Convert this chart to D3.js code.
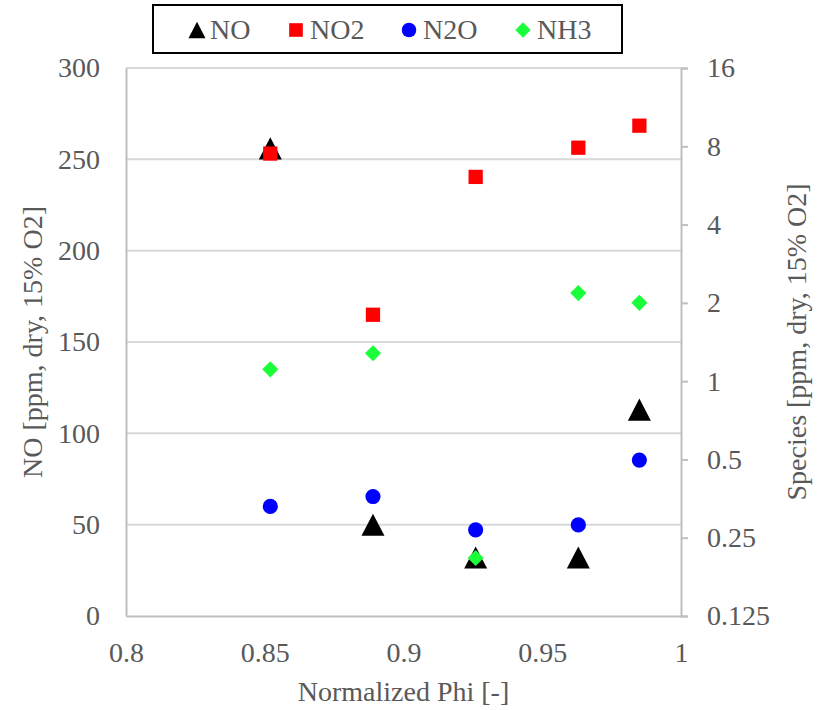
<!DOCTYPE html>
<html>
<head>
<meta charset="utf-8">
<script src="https://cdn.jsdelivr.net/npm/d3@7"></script>
<style>
	body { margin: 0; background: #fff; }
	svg, svg text { font-family: 'Liberation Serif'; }
</style>
</head>
<body>
<svg id="chart" width="827" height="710" font-family="Liberation Serif"></svg>
<script>
// values
var phi = [0.852, 0.889, 0.926, 0.963, 0.985];
var no_vals = [256, 50, 32, 32, 113];
var no2_vals = [7.5, 1.8, 6.1, 7.9, 9.6];
var n2o_vals = [0.33, 0.36, 0.268, 0.28, 0.497];
var nh3_vals = [1.11, 1.28, 0.209, 2.18, 2.0];

var x_ticks = [0.8, 0.85, 0.9, 0.95, 1];
var left_ticks = [0, 50, 100, 150, 200, 250, 300];
var right_ticks = [0.125, 0.25, 0.5, 1, 2, 4, 8, 16];

var series_names = ["NO", "NO2", "N2O", "NH3"];
var series_colors = ["#000000", "#ff0000", "#0000ff", "#1aff3a"];
var series_shapes = ["triangle", "square", "circle", "diamond"];

var m = {left: 126, right: 681, top: 68, bottom: 616};
var FS = 28;

function styleText(sel, size) {
	return sel.attr("font-size", size)
		.attr("fill", "#595959");
}

//returns a path string for a marker centred on 0,0
function markerPath(shape, s) {
	var p = d3.path();
	if (shape === "triangle") {
		p.moveTo(0, -s * 0.48);
		p.lineTo(s * 0.5, s * 0.48);
		p.lineTo(-s * 0.5, s * 0.48);
		p.closePath();
	} else if (shape === "square") {
		var h = s * 0.31;
		p.rect(-h, -h, 2 * h, 2 * h);
	} else if (shape === "circle") {
		p.arc(0, 0, s * 0.33, 0, 2 * Math.PI);
	} else {
		var d = s * 0.35;
		p.moveTo(0, -d);
		p.lineTo(d, 0);
		p.lineTo(0, d);
		p.lineTo(-d, 0);
		p.closePath();
	}
	return p.toString();
}

var svg = d3.select("#chart");

var xscale = d3.scaleLinear().domain([0.8, 1]).range([m.left, m.right]);
var yleft = d3.scaleLinear().domain([0, 300]).range([m.bottom, m.top]);
var yright = d3.scaleLog().base(2).domain([0.125, 16]).range([m.bottom, m.top]);

//gridlines
svg.append("g")
	.selectAll("line")
	.data(left_ticks.slice(1))
	.enter().append("line")
	.attr("x1", m.left).attr("x2", m.right)
	.attr("y1", function(d){ return yleft(d) })
	.attr("y2", function(d){ return yleft(d) })
	.attr("stroke", "#d9d9d9")
	.attr("stroke-width", 2);

//left axis
var left_axis = d3.axisLeft(yleft).tickValues(left_ticks).tickSize(0).tickPadding(26);
var gl = svg.append("g").attr("transform", "translate(" + m.left + ",0)").call(left_axis);

//bottom axis
var bottom_axis = d3.axisBottom(xscale).tickValues(x_ticks).tickSize(0).tickPadding(26)
	.tickFormat(function(d){ return String(d) });
var gb = svg.append("g").attr("transform", "translate(0," + m.bottom + ")").call(bottom_axis);

//right axis
var right_axis = d3.axisRight(yright).tickValues(right_ticks).tickSize(7).tickPadding(19)
	.tickFormat(function(d){ return String(d) });
var gr = svg.append("g").attr("transform", "translate(" + m.right + ",0)").call(right_axis);

[gl, gb, gr].map(function(g) {
	g.attr("font-family", null).attr("font-size", null);
	g.select(".domain").attr("stroke", "#bfbfbf").attr("stroke-width", 2);
	g.selectAll(".tick line").attr("stroke", "#bfbfbf").attr("stroke-width", 2);
	styleText(g.selectAll(".tick text"), FS);
});

//axis titles, centred on the plot area
var mid_y = (m.top + m.bottom) / 2;
styleText(svg.append("text"), FS)
	.attr("transform", "translate(42," + mid_y + ") rotate(-90)")
	.attr("text-anchor", "middle")
	.text("NO [ppm, dry, 15% O2]");

styleText(svg.append("text"), FS)
	.attr("transform", "translate(806," + mid_y + ") rotate(-90)")
	.attr("text-anchor", "middle")
	.text("Species [ppm, dry, 15% O2]");

styleText(svg.append("text"), FS)
	.attr("x", (m.left + m.right) / 2)
	.attr("y", 701)
	.attr("text-anchor", "middle")
	.text("Normalized Phi [-]");

//markers, drawn in series order
var series = [
	{vals: no_vals, scale: yleft},
	{vals: no2_vals, scale: yright},
	{vals: n2o_vals, scale: yright},
	{vals: nh3_vals, scale: yright}
];

series.map(function(s, i) {
	svg.append("g")
		.selectAll("path")
		.data(s.vals)
		.enter().append("path")
		.attr("d", markerPath(series_shapes[i], 23))
		.attr("transform", function(d, j) {
			return "translate(" + xscale(phi[j]) + "," + s.scale(d) + ")";
		})
		.attr("fill", series_colors[i]);
});

//legend
var legend = svg.append("g");
legend.append("rect")
	.attr("x", 153).attr("y", 5)
	.attr("width", 469).attr("height", 48)
	.attr("fill", "#fff")
	.attr("stroke", "#000")
	.attr("stroke-width", 2);

var legend_x = [197, 296, 409, 523];
var legend_text_x = [210, 310, 423, 537];
series_names.map(function(name, i) {
	legend.append("path")
		.attr("d", markerPath(series_shapes[i], i === 0 ? 17 : 22))
		.attr("transform", "translate(" + legend_x[i] + ",30)")
		.attr("fill", series_colors[i]);
	styleText(legend.append("text"), FS)
		.attr("x", legend_text_x[i])
		.attr("y", 39)
		.text(name);
});
</script>
</body>
</html>
